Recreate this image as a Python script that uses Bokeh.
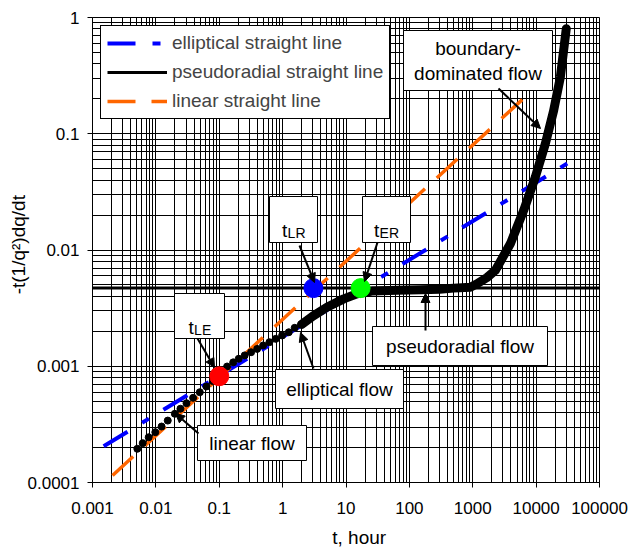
import math
from bokeh.plotting import figure
from bokeh.models import (Range1d, FixedTicker, Legend, LegendItem, Label,
                          BoxAnnotation, Arrow, NormalHead)
from bokeh.embed import file_html
from bokeh.resources import INLINE

# ---------------- data ----------------
dot_t = [0.0051, 0.0062, 0.0077, 0.0098, 0.0123, 0.0154, 0.0199, 0.0244, 0.0304,
         0.0387, 0.0493, 0.0628, 0.079, 0.100, 0.133, 0.166, 0.203, 0.252, 0.318,
         0.396, 0.492, 0.619, 0.778, 0.982, 1.25, 1.55, 1.96, 2.49, 3.09]
dot_y = [1.95e-4, 2.18e-4, 2.45e-4, 2.71e-4, 3.03e-4, 3.41e-4, 3.90e-4, 4.31e-4, 4.81e-4,
         5.35e-4, 5.98e-4, 6.70e-4, 7.45e-4, 8.2e-4, 9.95e-4, 1.08e-3, 1.16e-3, 1.24e-3, 1.32e-3,
         1.41e-3, 1.51e-3, 1.61e-3, 1.72e-3, 1.84e-3, 1.96e-3, 2.14e-3, 2.29e-3, 2.51e-3, 2.73e-3]

thick_t = [2.0, 3.0, 5.0, 9.2, 15, 27, 64, 150, 300, 500, 916, 1170, 1680, 2270,
           3920, 6360, 9700, 13960, 18900, 24100, 29900]
thick_y = [0.00229, 0.0027, 0.00322, 0.0038, 0.0042, 0.00445, 0.0045, 0.00455, 0.0046,
           0.0047, 0.00479, 0.00512, 0.0058, 0.00667, 0.0113, 0.0219, 0.0423, 0.0819,
           0.158, 0.306, 0.80]

ell_t = [0.0015, 31000]
ell_y = [0.000205, 0.0555]
lin_t = [0.00207, 15000]
lin_y = [0.000115, 0.31]
rad_t = [0.001, 100000]
rad_y = [0.0047, 0.0047]

pts_t = [0.1, 3.06, 17.0]
pts_y = [0.00082, 0.0047, 0.0047]
pts_c = ["#FF0000", "#0000FF", "#00FF00"]

legend_labels = ["elliptical straight line", "pseudoradial straight line", "linear straight line"]

x_ticks = [0.001, 0.01, 0.1, 1, 10, 100, 1000, 10000, 100000]
x_tick_labels = ["0.001", "0.01", "0.1", "1", "10", "100", "1000", "10000", "100000"]
y_ticks = [0.0001, 0.001, 0.01, 0.1, 1]
y_tick_labels = ["0.0001", "0.001", "0.01", "0.1", "1"]

x_title = "t, hour"
y_title = "-t(1/q\u00b2)dq/dt"

FONT = "Liberation Sans"
NB = "\u00a0"

# frame geometry (pixels)
FL, FR, FT, FB = 92, 599, 17, 482
W, H = 640, 553


def tx(px):
    return 10 ** ((px - FL) / (FR - FL) * 8 - 3)


def ty(py):
    return 10 ** (-(py - FT) / (FB - FT) * 4)


p = figure(width=W, height=H, x_axis_type="log", y_axis_type="log",
           x_range=Range1d(0.001, 100000), y_range=Range1d(0.0001, 1),
           output_backend="svg", toolbar_location=None,
           min_border_left=FL, min_border_right=W - FR,
           min_border_top=FT, min_border_bottom=H - FB)
p.background_fill_color = "white"
p.border_fill_color = "white"
p.outline_line_color = "black"

x_minor = [m * d for d in x_ticks[:-1] for m in range(2, 10)]
y_minor = [m * d for d in y_ticks[:-1] for m in range(2, 10)]
p.xaxis.ticker = FixedTicker(ticks=x_ticks, minor_ticks=x_minor)
p.yaxis.ticker = FixedTicker(ticks=y_ticks, minor_ticks=y_minor)
p.xaxis.major_label_overrides = dict(zip(x_ticks, x_tick_labels))
p.yaxis.major_label_overrides = dict(zip(y_ticks, y_tick_labels))

for ax in (p.xaxis[0], p.yaxis[0]):
    ax.axis_line_color = "black"
    ax.major_tick_line_color = "black"
    ax.major_tick_in = 0
    ax.major_tick_out = 5
    ax.minor_tick_line_color = None
    ax.major_label_text_font = FONT
    ax.major_label_text_font_size = "17px"
    ax.major_label_text_color = "black"
    ax.axis_label_text_font = FONT
    ax.axis_label_text_font_size = "19px"
    ax.axis_label_text_font_style = "normal"
    ax.axis_label_text_color = "black"

p.xaxis.major_label_standoff = 14
p.yaxis.major_label_standoff = 8
p.xaxis.axis_label = NB * 5 + x_title
p.xaxis.axis_label_standoff = 10
p.yaxis.axis_label = NB * 2 + y_title
p.yaxis.axis_label_standoff = -4

for g in (p.xgrid[0], p.ygrid[0]):
    g.grid_line_color = "black"
    g.grid_line_width = 1
    g.grid_line_alpha = 1
    g.minor_grid_line_color = "black"
    g.minor_grid_line_width = 1
    g.minor_grid_line_alpha = 1

# straight lines
r_ell = p.line(ell_t, ell_y, line_color="#0000FF", line_width=4, line_dash="28 17 8 17")
r_rad = p.line(rad_t, rad_y, line_color="black", line_width=3)
r_lin = p.line(lin_t, lin_y, line_color="#FF6600", line_width=3.5, line_dash="28 16")

# data curve
p.scatter(dot_t, dot_y, size=7, color="black")
p.line(thick_t, thick_y, line_color="black", line_width=9, line_cap="round", line_join="round")

# key points
p.scatter(pts_t, pts_y, size=19, color=pts_c)

# callout boxes
boxes = [
    (403, 552, 30, 90),    # boundary-dominated flow
    (269, 317, 196, 242),  # tLR
    (362, 410, 196, 242),  # tER
    (174, 224, 293, 338),  # tLE
    (197, 306, 425, 460),  # linear flow
    (275, 403, 369, 408),  # elliptical flow
    (372, 547, 326, 365),  # pseudoradial flow
]
for l, r, t, b in boxes:
    p.add_layout(BoxAnnotation(left=tx(l), right=tx(r), top=ty(t), bottom=ty(b),
                               fill_color="white", fill_alpha=1,
                               line_color="black", line_width=1, line_alpha=1))


def label(px, py, text, size="19px", align="center", baseline="middle", angle=0):
    p.add_layout(Label(x=tx(px), y=ty(py), text=text, text_font=FONT,
                       text_font_size=size, text_color="black",
                       text_align=align, text_baseline=baseline, angle=angle))


label(477.5, 48, "boundary-")
label(477.5, 73, "dominated flow")
label(251.5, 443, "linear flow")
label(339, 389, "elliptical flow")
label(459.5, 346, "pseudoradial flow")

for tpx, base, sub in [(281.5, 230, "LR"), (373.5, 230, "ER"), (188, 327, "LE")]:
    label(tpx, base, "t", align="left", baseline="alphabetic")
    label(tpx + 5.6, base + 2, sub, size="14px", align="left", baseline="alphabetic")

arrows = [
    (498, 88, 540, 128),
    (299, 245, 314, 282),
    (377, 242, 364, 281),
    (197, 338, 214, 367),
    (198, 433, 175, 413),
    (313, 368, 300, 332),
    (425, 330, 425, 293),
]
for x0, y0, x1, y1 in arrows:
    p.add_layout(Arrow(end=NormalHead(size=9, fill_color="black", line_color="black"),
                       x_start=tx(x0), y_start=ty(y0), x_end=tx(x1), y_end=ty(y1),
                       line_color="black", line_width=2))

legend = Legend(items=[LegendItem(label=legend_labels[0], renderers=[r_ell]),
                       LegendItem(label=legend_labels[1], renderers=[r_rad]),
                       LegendItem(label=legend_labels[2], renderers=[r_lin])],
                location=(8, FB - 119), margin=0, padding=6, spacing=7,
                glyph_width=60, glyph_height=20, label_height=20, label_standoff=5,
                label_text_font=FONT, label_text_font_size="19px",
                border_line_color="black", border_line_width=1, border_line_alpha=1,
                background_fill_color="white", background_fill_alpha=1)
p.add_layout(legend, "center")

open("out.html", "w").write(file_html(p, INLINE))
